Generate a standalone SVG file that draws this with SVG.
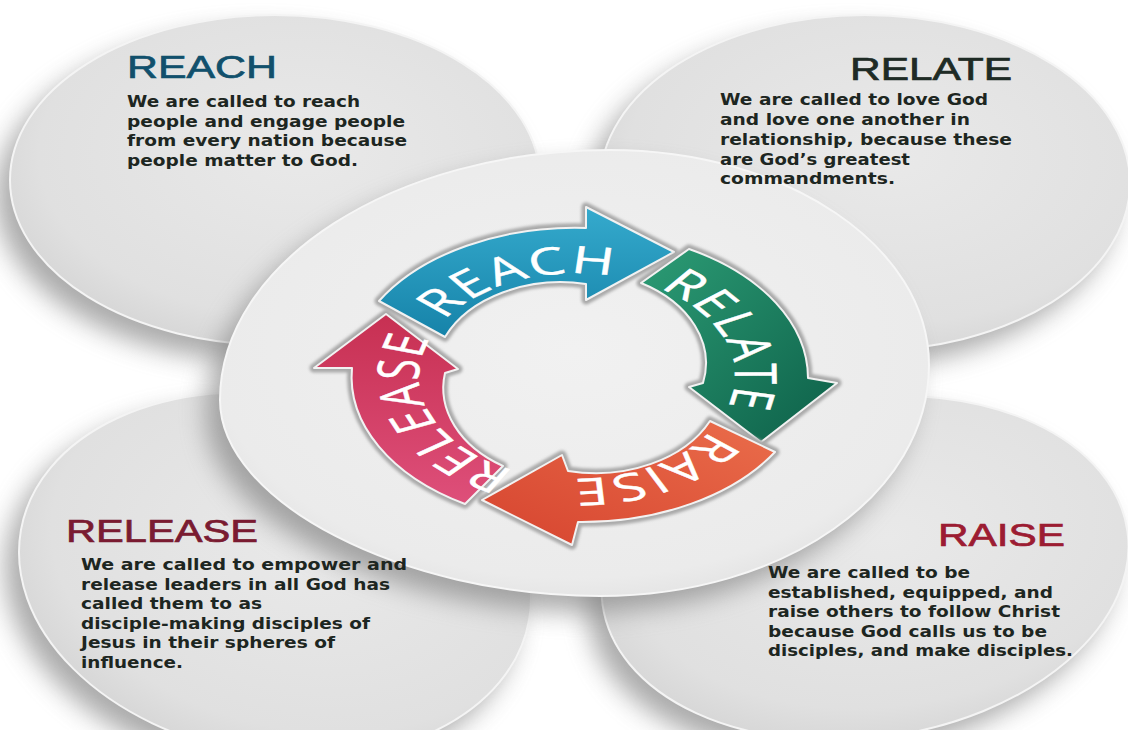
<svg xmlns="http://www.w3.org/2000/svg" width="1128" height="730" viewBox="0 0 1128 730">
<defs>
<style>
.head{font-family:"Liberation Sans",Arial,sans-serif;font-size:32px;stroke-width:0.7px;}
.body{font-family:"DejaVu Sans",Verdana,sans-serif;font-weight:bold;font-size:16.5px;fill:#1d2621;}
.ring{font-family:"Open Sans","Liberation Sans",sans-serif;font-size:58px;fill:#ffffff;letter-spacing:2px;stroke:#ffffff;stroke-width:0.6px;}
.disc{fill:url(#discG);stroke:#f4f4f4;stroke-width:2;}
.shadow{fill:#7e7e7e;opacity:0.65;filter:url(#blur);}
.groove{fill:none;stroke:#a9a9a9;stroke-width:9;stroke-linejoin:round;filter:url(#blur2);}
.arrow{stroke:#f2f2f2;stroke-width:2;stroke-linejoin:round;}
</style>
<filter id="blur" x="-20%" y="-20%" width="140%" height="140%"><feGaussianBlur stdDeviation="13"/></filter>
<filter id="blur2" x="-10%" y="-10%" width="120%" height="120%"><feGaussianBlur stdDeviation="1.6"/></filter>
<radialGradient id="discG" cx="0.55" cy="0.42" r="0.62">
<stop offset="0" stop-color="#e9e9e9"/><stop offset="0.8" stop-color="#e0e0e0"/><stop offset="1" stop-color="#d5d5d5"/>
</radialGradient>
<radialGradient id="hubG" cx="0.5" cy="0.45" r="0.6">
<stop offset="0" stop-color="#f1f1f1"/><stop offset="0.85" stop-color="#ebebeb"/><stop offset="1" stop-color="#e0e0e0"/>
</radialGradient>
<linearGradient id="gReach" x1="0" y1="0" x2="0" y2="1"><stop offset="0" stop-color="#35aacd"/><stop offset="1" stop-color="#1683a9"/></linearGradient>
<linearGradient id="gRelate" x1="0" y1="0" x2="1" y2="1"><stop offset="0" stop-color="#2c9c75"/><stop offset="1" stop-color="#0d5f48"/></linearGradient>
<linearGradient id="gRaise" x1="1" y1="0" x2="0" y2="1"><stop offset="0" stop-color="#ea6d4b"/><stop offset="1" stop-color="#d6442f"/></linearGradient>
<linearGradient id="gRelease" x1="0" y1="1" x2="0" y2="0"><stop offset="0" stop-color="#de4f7a"/><stop offset="1" stop-color="#c73052"/></linearGradient>
<path id="tpReach" d="M -156.27 -23.35 A 158 158 0 0 1 98.36 -123.65"/>
<path id="tpRelate" d="M 26.35 -155.79 A 158 158 0 0 1 121.74 100.71"/>
<path id="tpRaise" d="M 157.88 6.07 A 158 158 0 0 1 -84.19 133.70"/>
<path id="tpRelease" d="M -20.90 156.61 A 158 158 0 0 1 -125.18 -96.40"/>
</defs>
<rect width="1128" height="730" fill="#ffffff"/>

<g id="reach">
<ellipse class="shadow" cx="261" cy="196" rx="265" ry="165"/>
<ellipse class="disc" cx="275" cy="180" rx="265" ry="165"/>
</g>
<g id="relate">
<ellipse class="shadow" cx="851" cy="199" rx="265" ry="168"/>
<ellipse class="disc" cx="865" cy="183" rx="265" ry="168"/>
</g>
<g id="release">
<ellipse class="shadow" cx="261" cy="591" rx="258" ry="180" transform="rotate(10 261 591)"/>
<ellipse class="disc" cx="275" cy="575" rx="258" ry="180" transform="rotate(10 275 575)"/>
</g>
<g id="raise">
<ellipse class="shadow" cx="851" cy="584" rx="265" ry="170" transform="rotate(-8 851 584)"/>
<ellipse class="disc" cx="865" cy="568" rx="265" ry="170" transform="rotate(-8 865 568)"/>
</g>

<g id="hub">
<path class="shadow" transform="translate(-14,16)" d="M 220 400 C 220 261.9 394.6 150 610 150 C 786.2 150 929 246.3 929 365 C 929 494.4 784.2 596 600 596 C 402.4 596 220 501.9 220 400 Z"/>
<path fill="url(#hubG)" stroke="#f6f6f6" stroke-width="2" d="M 220 400 C 220 261.9 394.6 150 610 150 C 786.2 150 929 246.3 929 365 C 929 494.4 784.2 596 600 596 C 402.4 596 220 501.9 220 400 Z"/>
</g>

<g id="connectors">
<g id="arrow-reach">
<path class="groove" d="M 379 301 A 227 147 0 0 1 586 228 L 586 207 L 674 252 L 586 300 L 586 284 A 127 92 0 0 0 445 337 Z"/>
<path class="arrow" fill="url(#gReach)" d="M 379 301 A 227 147 0 0 1 586 228 L 586 207 L 674 252 L 586 300 L 586 284 A 127 92 0 0 0 445 337 Z"/>
</g>
<g id="arrow-relate">
<path class="groove" d="M 689 249 A 227 147 0 0 1 808 378 L 837 383 L 761 442 L 689 387 L 703 383 A 127 92 0 0 0 641 283 Z"/>
<path class="arrow" fill="url(#gRelate)" d="M 689 249 A 227 147 0 0 1 808 378 L 837 383 L 761 442 L 689 387 L 703 383 A 127 92 0 0 0 641 283 Z"/>
</g>
<g id="arrow-raise">
<path class="groove" d="M 775 452 A 227 147 0 0 1 578 522 L 572 545 L 482 500 L 562 455 L 568 471 A 127 92 0 0 0 710 421 Z"/>
<path class="arrow" fill="url(#gRaise)" d="M 775 452 A 227 147 0 0 1 578 522 L 572 545 L 482 500 L 562 455 L 568 471 A 127 92 0 0 0 710 421 Z"/>
</g>
<g id="arrow-release">
<path class="groove" d="M 465 504 A 227 147 0 0 1 352 368 L 314 368 L 386 314 L 458 369 L 445 373 A 127 92 0 0 0 503 466 Z"/>
<path class="arrow" fill="url(#gRelease)" d="M 465 504 A 227 147 0 0 1 352 368 L 314 368 L 386 314 L 458 369 L 445 373 A 127 92 0 0 0 503 466 Z"/>
</g>
<g transform="translate(577,376) scale(1,0.65)">
<text class="ring" text-anchor="middle"><textPath href="#tpReach" startOffset="50%">REACH</textPath></text>
<text class="ring" text-anchor="middle"><textPath href="#tpRelate" startOffset="50%">RELATE</textPath></text>
<text class="ring" text-anchor="middle" letter-spacing="4"><textPath href="#tpRaise" startOffset="50%">RAISE</textPath></text>
<text class="ring" text-anchor="middle"><textPath href="#tpRelease" startOffset="50%">RELEASE</textPath></text>
</g>
</g>

<g id="reach-text">
<text class="head" x="127" y="78" fill="#11506c" stroke="#11506c" textLength="150" lengthAdjust="spacingAndGlyphs">REACH</text>
<text class="body" x="127" y="107" textLength="233" lengthAdjust="spacingAndGlyphs">We are called to reach</text>
<text class="body" x="127" y="126.5" textLength="278" lengthAdjust="spacingAndGlyphs">people and engage people</text>
<text class="body" x="127" y="146" textLength="280" lengthAdjust="spacingAndGlyphs">from every nation because</text>
<text class="body" x="127" y="165.5" textLength="231" lengthAdjust="spacingAndGlyphs">people matter to God.</text>
</g>
<g id="relate-text">
<text class="head" x="850" y="80" fill="#1e2b25" stroke="#1e2b25" textLength="162" lengthAdjust="spacingAndGlyphs">RELATE</text>
<text class="body" x="720" y="105" textLength="268" lengthAdjust="spacingAndGlyphs">We are called to love God</text>
<text class="body" x="720" y="125" textLength="250" lengthAdjust="spacingAndGlyphs">and love one another in</text>
<text class="body" x="720" y="145" textLength="292" lengthAdjust="spacingAndGlyphs">relationship, because these</text>
<text class="body" x="720" y="165" textLength="190" lengthAdjust="spacingAndGlyphs">are God’s greatest</text>
<text class="body" x="720" y="184" textLength="175" lengthAdjust="spacingAndGlyphs">commandments.</text>
</g>
<g id="release-text">
<text class="head" x="66" y="542" fill="#7a1b31" stroke="#7a1b31" textLength="192" lengthAdjust="spacingAndGlyphs">RELEASE</text>
<text class="body" x="81" y="570" textLength="326" lengthAdjust="spacingAndGlyphs">We are called to empower and</text>
<text class="body" x="81" y="589.5" textLength="309" lengthAdjust="spacingAndGlyphs">release leaders in all God has</text>
<text class="body" x="81" y="609" textLength="181" lengthAdjust="spacingAndGlyphs">called them to as</text>
<text class="body" x="81" y="628.5" textLength="289" lengthAdjust="spacingAndGlyphs">disciple-making disciples of</text>
<text class="body" x="81" y="648" textLength="254" lengthAdjust="spacingAndGlyphs">Jesus in their spheres of</text>
<text class="body" x="81" y="667.5" textLength="102" lengthAdjust="spacingAndGlyphs">influence.</text>
</g>
<g id="raise-text">
<text class="head" x="938" y="546" fill="#9c1c32" stroke="#9c1c32" font-size="33" textLength="127" lengthAdjust="spacingAndGlyphs">RAISE</text>
<text class="body" x="768" y="578" textLength="202" lengthAdjust="spacingAndGlyphs">We are called to be</text>
<text class="body" x="768" y="597.5" textLength="285" lengthAdjust="spacingAndGlyphs">established, equipped, and</text>
<text class="body" x="768" y="617" textLength="292" lengthAdjust="spacingAndGlyphs">raise others to follow Christ</text>
<text class="body" x="768" y="636.5" textLength="279" lengthAdjust="spacingAndGlyphs">because God calls us to be</text>
<text class="body" x="768" y="656" textLength="305" lengthAdjust="spacingAndGlyphs">disciples, and make disciples.</text>
</g>
</svg>
